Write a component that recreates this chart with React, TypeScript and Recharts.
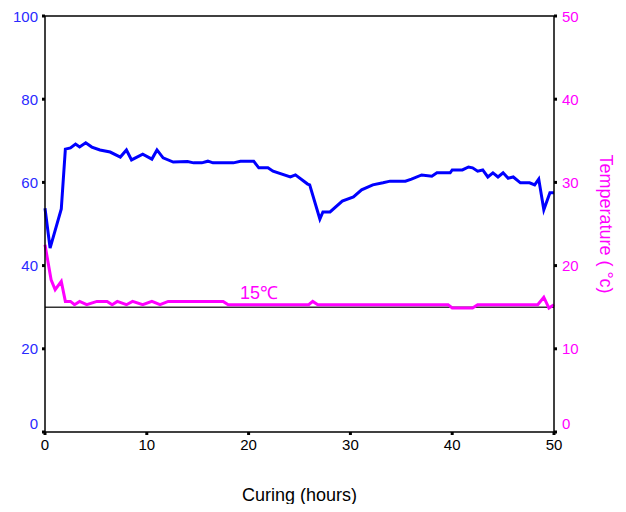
import React from "react";
import { LineChart, Line, XAxis, YAxis, ReferenceLine, Label } from "recharts";

// Humidity-like series on the left axis (0-100)
const humidityHours = [0, 0.5, 1.6, 2.0, 2.5, 3.0, 3.4, 4.0, 4.6, 5.4, 6.4, 7.4, 8.0, 8.5, 9.6, 10.5, 11.0, 11.6, 12.6, 14.0, 14.6, 15.4, 16.0, 16.5, 18.5, 19.2, 20.5, 21.0, 21.9, 22.4, 24.1, 24.6, 25.8, 26.0, 27.0, 27.3, 28.0, 29.2, 30.3, 31.1, 32.2, 33.2, 33.9, 35.4, 36.0, 37.0, 38.0, 38.5, 39.8, 40.0, 41.0, 41.6, 42.0, 42.5, 43.0, 43.5, 44.0, 44.5, 45.0, 45.5, 46.0, 46.7, 47.6, 48.1, 48.5, 49.0, 49.6, 50.0];
const humidityValues = [53.8, 44.2, 53.6, 68.0, 68.3, 69.2, 68.5, 69.5, 68.5, 67.8, 67.3, 66.1, 67.8, 65.4, 66.8, 65.6, 67.8, 65.9, 64.9, 65.0, 64.7, 64.7, 65.1, 64.7, 64.7, 65.1, 65.1, 63.5, 63.5, 62.7, 61.3, 61.8, 59.6, 59.4, 51.2, 52.9, 52.9, 55.5, 56.5, 58.2, 59.4, 59.9, 60.3, 60.3, 60.8, 61.8, 61.5, 62.3, 62.3, 63.0, 63.0, 63.7, 63.5, 62.7, 63.0, 61.3, 62.3, 61.3, 62.3, 61.0, 61.3, 59.9, 59.9, 59.4, 60.8, 53.4, 57.5, 57.5];

// Temperature series on the right axis (0-50 °C)
const tempHours = [0, 0.6, 1.0, 1.6, 2.0, 2.5, 2.9, 3.4, 4.1, 5.1, 6.1, 6.6, 7.1, 8.0, 8.6, 9.6, 10.5, 11.3, 12.1, 17.5, 18.0, 25.9, 26.3, 26.8, 39.6, 40.0, 42.0, 42.5, 48.4, 49.0, 49.5, 50.0];
const tempValues = [22.5, 18.3, 17.1, 18.1, 15.7, 15.7, 15.3, 15.7, 15.3, 15.7, 15.7, 15.3, 15.7, 15.3, 15.7, 15.3, 15.7, 15.3, 15.7, 15.7, 15.3, 15.3, 15.7, 15.3, 15.3, 14.9, 14.9, 15.3, 15.3, 16.2, 14.9, 15.3];

const xTicks = [0, 10, 20, 30, 40, 50];
const leftTicks = [0, 20, 40, 60, 80, 100];
const rightTicks = [0, 10, 20, 30, 40, 50];
const setPoint = 15;
const setPointLabel = "15℃";
const xLabel = "Curing (hours)";
const rightLabel = "Temperature ( °c)";

const humidityData = humidityHours.map((h, i) => ({ h, v: humidityValues[i] }));
const tempData = tempHours.map((h, i) => ({ h, t: tempValues[i] }));

const FONT = "'Liberation Sans', Arial, sans-serif";
const BLUE = "#0000ff";
const MAGENTA = "#ff00ff";

const makeTick = (color: string) => (props: any) => {
  const { x, y, payload, textAnchor } = props;
  const shift = payload.value === 0 ? -8 : 0;
  return (
    <text x={x} y={y + shift} dy="0.355em" textAnchor={textAnchor} fill={color} fontSize={15} fontFamily={FONT}>
      {payload.value}
    </text>
  );
};

export default function App() {
  return (
    <LineChart
      width={610}
      height={496}
      margin={{ top: 8, right: 0, bottom: 0, left: 0 }}
      style={{ fontFamily: FONT }}
    >
      <XAxis
        dataKey="h"
        type="number"
        domain={[0, 50]}
        ticks={xTicks}
        height={72}
        tickSize={3}
        tickMargin={4}
        axisLine={{ stroke: "#000", strokeWidth: 1.5 }}
        tickLine={{ stroke: "#000", strokeWidth: 3 }}
        tick={{ fill: "#000", fontSize: 15, fontFamily: FONT }}
        allowDuplicatedCategory={false}
      >
        <Label value={xLabel} position="insideBottom" offset={3} fill="#000" fontSize={18} fontFamily={FONT} />
      </XAxis>
      <YAxis
        yAxisId="left"
        orientation="left"
        domain={[0, 100]}
        ticks={leftTicks}
        width={37}
        tickSize={3}
        tickMargin={4}
        axisLine={{ stroke: "#000", strokeWidth: 1.5 }}
        tickLine={{ stroke: "#000", strokeWidth: 3 }}
        tick={makeTick("#2a2aff")}
      />
      <YAxis
        yAxisId="right"
        orientation="right"
        domain={[0, 50]}
        ticks={rightTicks}
        width={64}
        tickSize={3}
        tickMargin={5}
        axisLine={{ stroke: "#000", strokeWidth: 1.5 }}
        tickLine={{ stroke: "#000", strokeWidth: 3 }}
        tick={makeTick(MAGENTA)}
      >
        <Label
          content={(p: any) => {
            const vb = p.viewBox || {};
            const cx = vb.x + vb.width - 12;
            const cy = vb.y + vb.height / 2;
            return (
              <text
                x={cx}
                y={cy}
                dy="0.355em"
                textAnchor="middle"
                fill={MAGENTA}
                fontSize={18}
                fontFamily={FONT}
                transform={`rotate(90, ${cx}, ${cy})`}
              >
                {rightLabel}
              </text>
            );
          }}
        />
      </YAxis>
      <ReferenceLine yAxisId="left" y={100} stroke="#000" strokeWidth={1.5} />
      <ReferenceLine
        yAxisId="right"
        y={setPoint}
        stroke="#333"
        strokeWidth={1.5}
        label={(p: any) => {
          const vb = p.viewBox || {};
          return (
            <text x={vb.x + vb.width * 0.383} y={vb.y - 8} fill={MAGENTA} fontSize={18} fontFamily={FONT}>
              {setPointLabel}
            </text>
          );
        }}
      />
      <Line
        yAxisId="left"
        data={humidityData}
        dataKey="v"
        type="linear"
        stroke={BLUE}
        strokeWidth={3}
        dot={false}
        isAnimationActive={false}
      />
      <Line
        yAxisId="right"
        data={tempData}
        dataKey="t"
        type="linear"
        stroke={MAGENTA}
        strokeWidth={3}
        dot={false}
        isAnimationActive={false}
      />
    </LineChart>
  );
}
